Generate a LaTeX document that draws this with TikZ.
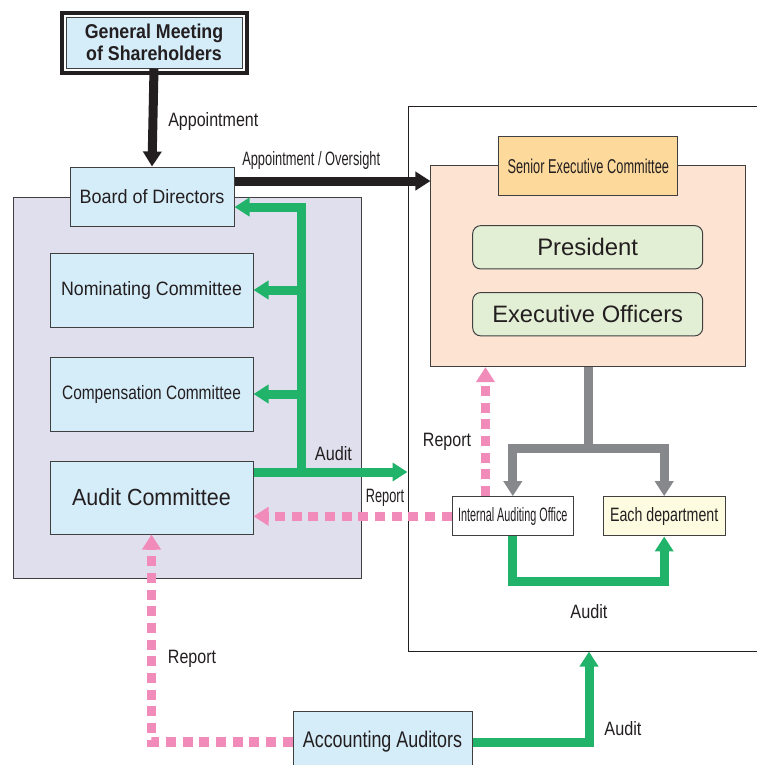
\documentclass[tikz,border=0pt]{standalone}
\usepackage{fontspec}
\setmainfont{Liberation Sans}
\usetikzlibrary{arrows.meta}
\definecolor{ink}{HTML}{231F20}
\definecolor{edge}{HTML}{404041}
\definecolor{boxblue}{HTML}{D5ECF9}
\definecolor{panel}{HTML}{E0DFEE}
\definecolor{salmon}{HTML}{FDE4D2}
\definecolor{senior}{HTML}{FDD99B}
\definecolor{officer}{HTML}{E3EFD5}
\definecolor{deptfill}{HTML}{FEFCE0}
\definecolor{audit}{HTML}{22B36B}
\definecolor{report}{HTML}{F18BB9}
\definecolor{chain}{HTML}{87888B}
\begin{document}
\begin{tikzpicture}[x=0.75pt,y=-0.75pt,box/.style={draw=edge,line width=0.75pt,text=ink,inner sep=0pt,align=center},txt/.style 2 args={font=\fontsize{#1}{17}\selectfont\addfontfeature{FakeStretch=#2}},lbl/.style={text=ink,inner sep=0pt},link/.style={line width=6.75pt,-{Triangle[width=13.5pt,length=11.25pt]}},blk/.style={link,draw=ink},grn/.style={link,draw=audit},gry/.style={link,draw=chain},rep/.style={link,draw=report,line width=7pt,dash pattern=on 7.5pt off 5pt}]
\def\cw{152.25pt};
\def\ch{55.5pt};
\def\ow{172.5pt};
\def\oh{32.5pt};

\useasboundingbox (0,0) rectangle (757,765);

\draw[edge,line width=0.75pt,fill=panel] (13,197) rectangle (361,578);
\node[draw=ink,line width=0.75pt,fill=white,minimum width=271.5pt,minimum height=408.75pt,inner sep=0pt] (rf) at (589,378.5) {};

\node[box,fill=salmon,minimum width=236pt,minimum height=150.5pt] (sec) at (588.3,266.3) {};
\node[box,fill=senior,minimum width=134pt,minimum height=44.25pt,txt={15}{0.64}] (sen) at (588.3,166.2) {Senior Executive Committee};
\node[box,fill=officer,rounded corners=6pt,minimum width=\ow,minimum height=\oh,txt={17.9}{1}] (pres) at (587.7,247.3) {President};
\node[box,fill=officer,rounded corners=6pt,minimum width=\ow,minimum height=\oh,txt={17.8}{1}] (exo) at (587.7,314.2) {Executive Officers};

\node[box,fill=white,minimum width=90.75pt,minimum height=29.5pt,txt={14.5}{0.56}] (iao) at (512.8,516.3) {Internal Auditing Office};
\node[box,fill=deptfill,minimum width=91.25pt,minimum height=29.5pt,txt={14.5}{0.735}] (dept) at (664.2,516.3) {Each department};

\node[box,fill=boxblue,minimum width=123pt,minimum height=44.25pt,txt={14.5}{0.93}] (board) at (152,196.5) {Board of Directors};
\node[box,fill=boxblue,minimum width=\cw,minimum height=\ch,txt={14.5}{0.92}] (nc) at (151.5,290) {Nominating Committee};
\node[box,fill=boxblue,minimum width=\cw,minimum height=\ch,txt={14.5}{0.80}] (cc) at (151.5,394) {Compensation Committee};
\node[box,fill=boxblue,minimum width=\cw,minimum height=54.75pt,txt={17.5}{0.92}] (ac) at (151.5,497.5) {Audit Committee};
\node[box,fill=boxblue,minimum width=134.25pt,minimum height=46.5pt,txt={17}{0.79}] (acc) at (382.5,742) {Accounting Auditors};

\node[box,fill=boxblue,minimum width=132pt,minimum height=38.25pt,font=\fontsize{15}{17}\selectfont\bfseries\addfontfeature{FakeStretch=0.89}] (gm) at (154,42.5) {General Meeting\\of Shareholders};
\draw[ink,line width=3pt] ([shift={(-3pt,3pt)}]gm.north west) rectangle ([shift={(3pt,-3pt)}]gm.south east);

\coordinate (aj) at (301,472);
\coordinate (gj) at (588.3,448);

\draw[blk] (gm.south) -- (board.north);
\draw[blk] ([yshift=11.6pt]board.east) -- ([yshift=11.6pt]board.east -| sec.west);

\draw[grn] (aj) |- ([yshift=-7.9pt]board.east);
\draw[grn] (aj |- nc.east) -- (nc.east);
\draw[grn] (aj |- cc.east) -- (cc.east);
\draw[grn] (aj -| ac.east) -- (aj -| rf.west);
\draw[grn] (iao.south) -- ([yshift=-33.75pt]iao.south) -| (dept.south);
\draw[grn] (acc.east) -| (rf.south);

\draw[gry,-] (sec.south) -- (gj);
\draw[gry] (gj) -| (iao.north);
\draw[gry] (gj) -| (dept.north);

\draw[rep] ([xshift=-20.5pt]iao.north) -- ([xshift=-20.5pt]iao.north |- sec.south);
\draw[rep] (iao.west) -- (iao.west -| ac.east);
\draw[rep] (acc.west) -| (ac.south);

\node[lbl,txt={14.5}{0.83},anchor=west] (apl) at (168,121) {Appointment};
\node[lbl,txt={14.5}{0.665},anchor=west] (aol) at (242,160) {Appointment / Oversight};
\node[lbl,txt={14.5}{0.84}] (au1) at (333.5,454) {Audit};
\node[lbl,txt={14.5}{0.66}] (rp1) at (385,498) {Report};
\node[lbl,txt={14.5}{0.83}] (rp2) at (447,442) {Report};
\node[lbl,txt={14.5}{0.84}] (au2) at (589,612) {Audit};
\node[lbl,txt={14.5}{0.83}] (rp3) at (192,659) {Report};
\node[lbl,txt={14.5}{0.84}] (au3) at (623,729) {Audit};
\end{tikzpicture}
\end{document}
